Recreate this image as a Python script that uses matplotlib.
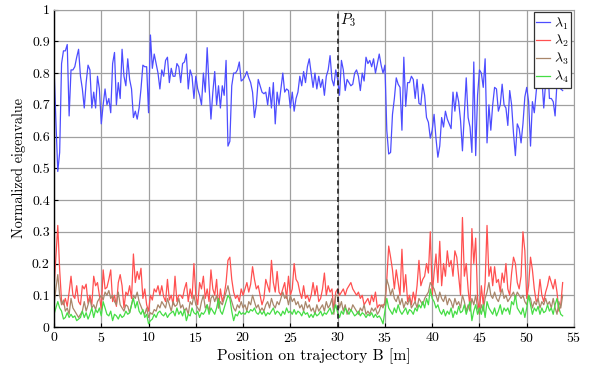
import numpy as np
import matplotlib
matplotlib.use("Agg")
import matplotlib.pyplot as plt
from matplotlib.ticker import FuncFormatter, MultipleLocator

plt.rcParams['font.family'] = 'cmr10'
plt.rcParams['mathtext.fontset'] = 'cm'
plt.rcParams['axes.formatter.use_mathtext'] = True

# Sample spacing along trajectory B [m]
step = 0.2

# Normalized eigenvalues, 5 samples per metre
lam1 = [
    0.82, 0.65, 0.49, 0.55, 0.83,  0.87, 0.87, 0.89, 0.665, 0.81,
    0.81, 0.82, 0.85, 0.875, 0.79,  0.75, 0.69, 0.77, 0.825, 0.81,
    0.69, 0.74, 0.69, 0.79, 0.75,  0.64, 0.70, 0.75, 0.70, 0.72,
    0.675, 0.83, 0.865, 0.70, 0.77,  0.72, 0.875, 0.79, 0.76, 0.845,
    0.78, 0.75, 0.66, 0.68, 0.655,  0.69, 0.75, 0.825, 0.82, 0.82,
    0.675, 0.92, 0.815, 0.86, 0.83,  0.80, 0.75, 0.81, 0.79, 0.84,
    0.85, 0.77, 0.815, 0.79, 0.79,  0.83, 0.82, 0.77, 0.83, 0.835,
    0.86, 0.75, 0.81, 0.79, 0.72,  0.79, 0.75, 0.73, 0.70, 0.80,
    0.74, 0.88, 0.76, 0.655, 0.74,  0.805, 0.70, 0.76, 0.69, 0.76,
    0.73, 0.84, 0.57, 0.585, 0.76,  0.80, 0.80, 0.81, 0.835, 0.775,
    0.78, 0.79, 0.805, 0.785, 0.77,  0.74, 0.66, 0.70, 0.78, 0.76,
    0.74, 0.735, 0.74, 0.70, 0.755,  0.69, 0.77, 0.64, 0.74, 0.70,
    0.75, 0.80, 0.74, 0.75, 0.745,  0.69, 0.74, 0.68, 0.72, 0.74,
    0.79, 0.76, 0.805, 0.77, 0.82,  0.845, 0.80, 0.755, 0.80, 0.75,
    0.79, 0.755, 0.78, 0.73, 0.79,  0.81, 0.855, 0.78, 0.76, 0.81,
    0.78, 0.73, 0.84, 0.81, 0.745,  0.78, 0.77, 0.76, 0.765, 0.80,
    0.81, 0.79, 0.745, 0.80, 0.775,  0.85, 0.83, 0.84, 0.82, 0.845,
    0.80, 0.83, 0.86, 0.825, 0.80,  0.825, 0.62, 0.545, 0.55, 0.67,
    0.72, 0.785, 0.765, 0.755, 0.62,  0.85, 0.695, 0.77, 0.77, 0.79,
    0.78, 0.72, 0.78, 0.705, 0.70,  0.765, 0.73, 0.66, 0.645, 0.595,
    0.62, 0.67, 0.595, 0.535, 0.57,  0.66, 0.63, 0.68, 0.655, 0.64,
    0.625, 0.74, 0.68, 0.74, 0.71,  0.65, 0.555, 0.67, 0.785, 0.66,
    0.63, 0.55, 0.835, 0.54, 0.73,  0.81, 0.80, 0.755, 0.845, 0.58,
    0.70, 0.62, 0.70, 0.755, 0.75,  0.68, 0.70, 0.765, 0.70, 0.69,
    0.635, 0.745, 0.70, 0.61, 0.54,  0.64, 0.625, 0.58, 0.64, 0.725,
    0.755, 0.71, 0.57, 0.71, 0.675,  0.74, 0.80, 0.86, 0.785, 0.69,
    0.77, 0.84, 0.72, 0.72, 0.71,  0.665, 0.77, 0.82, 0.75, 0.745,
]

lam2 = [
    0.12, 0.22, 0.32, 0.18, 0.08,  0.07, 0.09, 0.065, 0.11, 0.16,
    0.10, 0.09, 0.13, 0.08, 0.07,  0.13, 0.12, 0.135, 0.075, 0.10,
    0.07, 0.16, 0.13, 0.14, 0.10,  0.055, 0.18, 0.12, 0.125, 0.15,
    0.18, 0.08, 0.10, 0.065, 0.14,  0.165, 0.13, 0.06, 0.11, 0.10,
    0.13, 0.09, 0.23, 0.14, 0.175,  0.15, 0.185, 0.09, 0.12, 0.07,
    0.05, 0.10, 0.085, 0.12, 0.11,  0.13, 0.10, 0.13, 0.095, 0.08,
    0.15, 0.085, 0.10, 0.07, 0.16,  0.08, 0.10, 0.10, 0.09, 0.12,
    0.14, 0.08, 0.12, 0.09, 0.20,  0.10, 0.07, 0.14, 0.12, 0.16,
    0.09, 0.12, 0.08, 0.18, 0.12,  0.10, 0.15, 0.06, 0.12, 0.08,
    0.10, 0.14, 0.21, 0.22, 0.15,  0.11, 0.09, 0.10, 0.08, 0.12,
    0.10, 0.12, 0.14, 0.11, 0.135,  0.19, 0.15, 0.12, 0.13, 0.10,
    0.07, 0.09, 0.15, 0.13, 0.11,  0.21, 0.14, 0.11, 0.175, 0.11,
    0.10, 0.12, 0.14, 0.09, 0.16,  0.10, 0.12, 0.20, 0.15, 0.14,
    0.11, 0.09, 0.13, 0.09, 0.10,  0.08, 0.10, 0.14, 0.10, 0.13,
    0.08, 0.09, 0.12, 0.17, 0.10,  0.13, 0.11, 0.12, 0.05, 0.11,
    0.12, 0.10, 0.11, 0.12, 0.10,  0.12, 0.13, 0.14, 0.12, 0.11,
    0.10, 0.11, 0.09, 0.10, 0.07,  0.08, 0.09, 0.07, 0.10, 0.08,
    0.11, 0.06, 0.07, 0.065, 0.07,  0.07, 0.15, 0.255, 0.22, 0.18,
    0.12, 0.18, 0.14, 0.10, 0.245,  0.11, 0.165, 0.08, 0.10, 0.07,
    0.11, 0.08, 0.13, 0.21, 0.13,  0.15, 0.16, 0.20, 0.17, 0.30,
    0.10, 0.17, 0.23, 0.14, 0.27,  0.13, 0.20, 0.16, 0.24, 0.19,
    0.21, 0.16, 0.24, 0.22, 0.16,  0.10, 0.345, 0.16, 0.20, 0.12,
    0.06, 0.31, 0.20, 0.28, 0.09,  0.045, 0.13, 0.07, 0.14, 0.32,
    0.16, 0.19, 0.13, 0.19, 0.14,  0.15, 0.11, 0.17, 0.14, 0.20,
    0.12, 0.10, 0.17, 0.22, 0.20,  0.14, 0.12, 0.16, 0.30, 0.24,
    0.09, 0.13, 0.22, 0.18, 0.12,  0.08, 0.09, 0.15, 0.10, 0.08,
    0.11, 0.13, 0.16, 0.14, 0.12,  0.15, 0.11, 0.05, 0.07, 0.14,
]

lam3 = [
    0.07, 0.12, 0.165, 0.10, 0.07,  0.085, 0.05, 0.06, 0.04, 0.09,
    0.06, 0.05, 0.04, 0.03, 0.04,  0.05, 0.08, 0.05, 0.07, 0.09,
    0.06, 0.07, 0.055, 0.08, 0.09,  0.10, 0.085, 0.11, 0.10, 0.115,
    0.09, 0.10, 0.08, 0.07, 0.11,  0.07, 0.06, 0.05, 0.07, 0.065,
    0.045, 0.07, 0.10, 0.09, 0.11,  0.08, 0.065, 0.05, 0.04, 0.06,
    0.03, 0.045, 0.04, 0.055, 0.05,  0.07, 0.06, 0.08, 0.07, 0.06,
    0.09, 0.07, 0.05, 0.08, 0.065,  0.07, 0.09, 0.06, 0.07, 0.05,
    0.06, 0.04, 0.08, 0.07, 0.10,  0.07, 0.06, 0.05, 0.08, 0.10,
    0.06, 0.07, 0.05, 0.09, 0.10,  0.08, 0.10, 0.06, 0.08, 0.07,
    0.09, 0.11, 0.13, 0.10, 0.08,  0.06, 0.05, 0.07, 0.06, 0.08,
    0.06, 0.07, 0.05, 0.08, 0.07,  0.10, 0.08, 0.06, 0.07, 0.05,
    0.06, 0.05, 0.07, 0.08, 0.06,  0.09, 0.07, 0.06, 0.08, 0.07,
    0.09, 0.11, 0.09, 0.10, 0.07,  0.10, 0.08, 0.09, 0.07, 0.08,
    0.06, 0.07, 0.05, 0.08, 0.06,  0.07, 0.05, 0.06, 0.04, 0.07,
    0.05, 0.06, 0.07, 0.05, 0.08,  0.06, 0.07, 0.09, 0.04, 0.10,
    0.10, 0.06, 0.08, 0.05, 0.07,  0.04, 0.06, 0.05, 0.07, 0.06,
    0.05, 0.04, 0.06, 0.05, 0.07,  0.04, 0.05, 0.04, 0.06, 0.05,
    0.06, 0.04, 0.05, 0.07, 0.06,  0.08, 0.15, 0.13, 0.10, 0.12,
    0.09, 0.08, 0.10, 0.07, 0.09,  0.06, 0.08, 0.07, 0.09, 0.06,
    0.07, 0.08, 0.06, 0.09, 0.08,  0.07, 0.09, 0.10, 0.11, 0.14,
    0.13, 0.12, 0.10, 0.08, 0.11,  0.09, 0.08, 0.10, 0.07, 0.09,
    0.08, 0.06, 0.09, 0.07, 0.08,  0.06, 0.10, 0.08, 0.05, 0.07,
    0.05, 0.09, 0.07, 0.10, 0.06,  0.04, 0.07, 0.05, 0.09, 0.11,
    0.14, 0.10, 0.09, 0.11, 0.09,  0.08, 0.10, 0.12, 0.09, 0.10,
    0.08, 0.09, 0.10, 0.11, 0.09,  0.11, 0.10, 0.09, 0.10, 0.08,
    0.07, 0.10, 0.09, 0.06, 0.08,  0.07, 0.09, 0.06, 0.08, 0.07,
    0.09, 0.07, 0.08, 0.06, 0.09,  0.06, 0.04, 0.08, 0.06, 0.10,
]

lam4 = [
    0.04, 0.06, 0.08, 0.06, 0.05,  0.025, 0.03, 0.045, 0.03, 0.04,
    0.03, 0.035, 0.02, 0.025, 0.03,  0.05, 0.03, 0.045, 0.025, 0.04,
    0.06, 0.03, 0.055, 0.045, 0.06,  0.035, 0.08, 0.06, 0.04, 0.035,
    0.05, 0.02, 0.04, 0.035, 0.025,  0.04, 0.03, 0.035, 0.05, 0.04,
    0.045, 0.07, 0.09, 0.06, 0.08,  0.05, 0.04, 0.055, 0.03, 0.04,
    0.01, 0.02, 0.025, 0.04, 0.03,  0.045, 0.05, 0.04, 0.035, 0.045,
    0.03, 0.04, 0.045, 0.05, 0.035,  0.06, 0.04, 0.05, 0.035, 0.055,
    0.02, 0.04, 0.035, 0.06, 0.045,  0.04, 0.05, 0.03, 0.045, 0.04,
    0.05, 0.07, 0.04, 0.06, 0.05,  0.04, 0.06, 0.09, 0.05, 0.04,
    0.06, 0.08, 0.10, 0.09, 0.05,  0.02, 0.04, 0.035, 0.05, 0.04,
    0.045, 0.04, 0.05, 0.045, 0.055,  0.05, 0.06, 0.045, 0.04, 0.05,
    0.04, 0.05, 0.035, 0.045, 0.04,  0.05, 0.06, 0.04, 0.05, 0.045,
    0.035, 0.05, 0.04, 0.06, 0.045,  0.05, 0.04, 0.055, 0.04, 0.05,
    0.045, 0.035, 0.05, 0.04, 0.045,  0.03, 0.04, 0.03, 0.045, 0.035,
    0.04, 0.05, 0.035, 0.045, 0.04,  0.05, 0.06, 0.04, 0.05, 0.07,
    0.045, 0.03, 0.05, 0.04, 0.06,  0.05, 0.04, 0.055, 0.045, 0.035,
    0.04, 0.05, 0.035, 0.045, 0.04,  0.03, 0.04, 0.035, 0.045, 0.03,
    0.04, 0.03, 0.035, 0.025, 0.01,  0.05, 0.09, 0.06, 0.05, 0.04,
    0.06, 0.045, 0.07, 0.05, 0.04,  0.05, 0.06, 0.04, 0.055, 0.05,
    0.04, 0.06, 0.05, 0.07, 0.06,  0.08, 0.06, 0.09, 0.07, 0.12,
    0.09, 0.08, 0.06, 0.07, 0.05,  0.04, 0.055, 0.035, 0.05, 0.04,
    0.06, 0.03, 0.05, 0.04, 0.065,  0.045, 0.05, 0.07, 0.04, 0.06,
    0.08, 0.02, 0.05, 0.07, 0.04,  0.06, 0.04, 0.07, 0.03, 0.08,
    0.06, 0.05, 0.04, 0.06, 0.035,  0.05, 0.07, 0.04, 0.06, 0.05,
    0.06, 0.04, 0.08, 0.07, 0.10,  0.06, 0.05, 0.04, 0.06, 0.03,
    0.06, 0.10, 0.07, 0.04, 0.06,  0.05, 0.065, 0.04, 0.06, 0.045,
    0.05, 0.07, 0.05, 0.06, 0.04,  0.07, 0.09, 0.06, 0.04, 0.035,
]

series = [
    (lam1, '#4d4dff', r'$\lambda_1$'),
    (lam2, '#ff5050', r'$\lambda_2$'),
    (lam3, '#a8866a', r'$\lambda_3$'),
    (lam4, '#45dd45', r'$\lambda_4$'),
]

marker_pos = 30  # position of P3 [m]

fig = plt.figure(figsize=(5.96, 3.71), dpi=100)
ax = fig.add_axes([0.0906, 0.1186, 0.8725, 0.8555])

for vals, color, label in series:
    x = np.arange(len(vals)) * step
    ax.plot(x, vals, color=color, lw=0.9, label=label)

ax.axvline(marker_pos, color='#222222', ls=(0, (3, 2)), lw=1.2)
ax.text(marker_pos + 0.25, 0.965, r'$P_3$', fontsize=10.5, va='center', ha='left')

ax.set_xlim(0, 55)
ax.set_ylim(0, 1)
ax.xaxis.set_major_locator(MultipleLocator(5))
ax.yaxis.set_major_locator(MultipleLocator(0.1))
ax.yaxis.set_major_formatter(FuncFormatter(lambda v, p: f'{v:g}'))

ax.grid(True, color='#a0a0a0', lw=0.9)
ax.set_axisbelow(True)
ax.tick_params(direction='in', length=3, labelsize=10, pad=3, top=False, right=False)
for side in ('top', 'right'):
    ax.spines[side].set_color('#a0a0a0')
for side in ('left', 'bottom'):
    ax.spines[side].set_linewidth(1.0)

ax.set_xlabel('Position on trajectory B [m]', fontsize=11.3, labelpad=2)
ax.set_ylabel('Normalized eigenvalue', fontsize=10.3, labelpad=4)

leg = ax.legend(loc='upper right', fontsize=10, fancybox=False, framealpha=1,
                edgecolor='#333333', handlelength=1.0, handletextpad=0.25,
                labelspacing=0.1, borderpad=0.2, borderaxespad=0.2)
leg.get_frame().set_linewidth(0.9)

fig.savefig('out.png', dpi=100)
